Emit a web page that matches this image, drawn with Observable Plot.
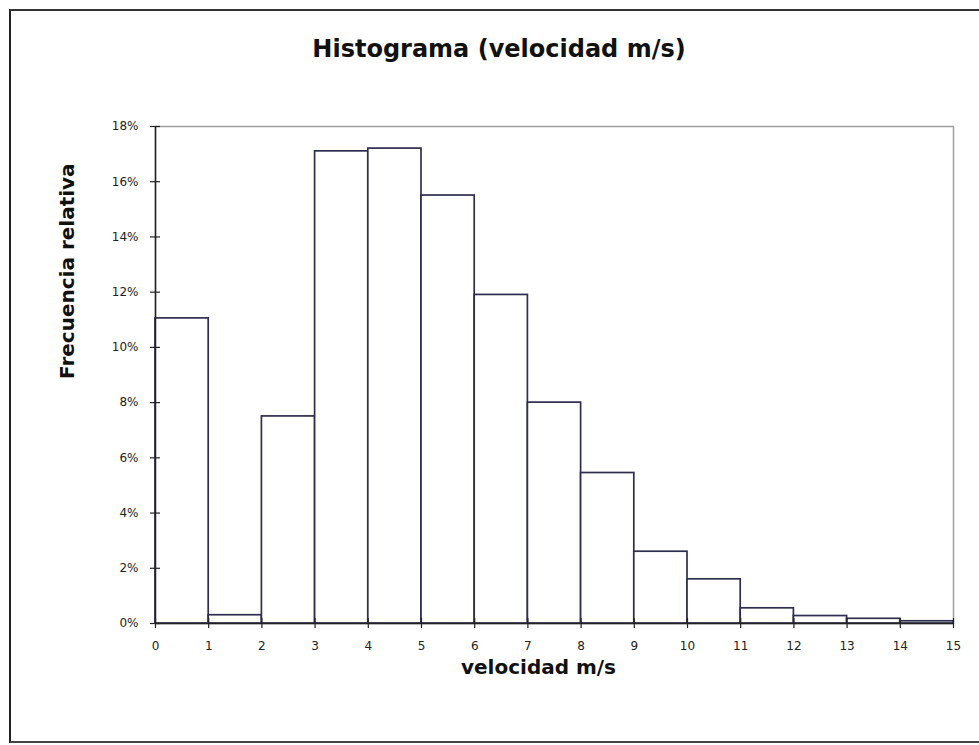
<!DOCTYPE html>
<html>
<head>
<meta charset="utf-8">
<script src="https://cdn.jsdelivr.net/npm/d3@7"></script>
<script src="https://cdn.jsdelivr.net/npm/@observablehq/plot@0.6"></script>
<style>
  html, body { margin: 0; padding: 0; background: #fff; }
  #wrap { position: relative; width: 979px; height: 745px; overflow: hidden; background: #fff; }
  #border { position: absolute; left: 9px; top: 9px; width: 1000px; height: 730px;
            border-left: 2px solid #222; border-top: 2px solid #333; border-bottom: 2px solid #444; }
  #title { position: absolute; left: 0; width: 998px; top: 37px; text-align: center;
           font-family: "DejaVu Sans", sans-serif; font-weight: bold; font-size: 24px; line-height: 1; color: #111; }
  #chart { position: absolute; left: 0; top: 0; }
</style>
</head>
<body>
<div id="wrap">
  <div id="border"></div>
  <div id="title">Histograma (velocidad m/s)</div>
  <div id="chart"></div>
</div>
<script>
// Bins (velocidad m/s) and relative frequency (%)
const binLower = [0, 1, 2, 3, 4, 5, 6, 7, 8, 9, 10, 11, 12, 13, 14];
const binUpper = [1, 2, 3, 4, 5, 6, 7, 8, 9, 10, 11, 12, 13, 14, 15];
const freq = [11.05, 0.3, 7.5, 17.1, 17.2, 15.5, 11.9, 8.0, 5.45, 2.6, 1.6, 0.55, 0.27, 0.17, 0.08];
const xTicks = [0, 1, 2, 3, 4, 5, 6, 7, 8, 9, 10, 11, 12, 13, 14, 15];
const yTicks = [0, 2, 4, 6, 8, 10, 12, 14, 16, 18];
const xLabel = "velocidad m/s";
const yLabel = "Frecuencia relativa";

const data = binLower.map((lo, i) => ({lo, hi: binUpper[i], f: freq[i]}));

const chart = Plot.plot({
  width: 979,
  height: 745,
  marginLeft: 155,
  marginRight: 26,
  marginTop: 126,
  marginBottom: 122,
  style: {background: "transparent", fontFamily: "DejaVu Sans, sans-serif", color: "#222"},
  x: {domain: [0, 15]},
  y: {domain: [0, 18]},
  marks: [
    Plot.frame({stroke: "#a0a0a0", strokeWidth: 1.5}),
    Plot.rectY(data, {x1: "lo", x2: "hi", y: "f", fill: "#ffffff", stroke: "#2e2e4e", strokeWidth: 1.7}),
    Plot.ruleY([0], {stroke: "#222", strokeWidth: 1.5}),
    Plot.ruleX([0], {stroke: "#222", strokeWidth: 1.5}),
    Plot.axisX({ticks: xTicks, tickSize: 10, dy: -5, tickPadding: 13, label: null, fontSize: 12, stroke: "#222", strokeWidth: 1.2}),
    Plot.axisY({ticks: yTicks, tickSize: 10, dx: 5, tickPadding: 12, label: null, fontSize: 12,
                tickFormat: d => d + "%", stroke: "#222", strokeWidth: 1.2}),
    Plot.text([xLabel], {frameAnchor: "bottom", dy: 50, dx: -16, fontSize: 20, fontWeight: "bold", fill: "#111"}),
    Plot.text([yLabel], {frameAnchor: "left", dx: -88, dy: 4, rotate: -90, fontSize: 20, fontWeight: "bold", fill: "#111"})
  ]
});
document.getElementById("chart").appendChild(chart);
</script>
</body>
</html>
